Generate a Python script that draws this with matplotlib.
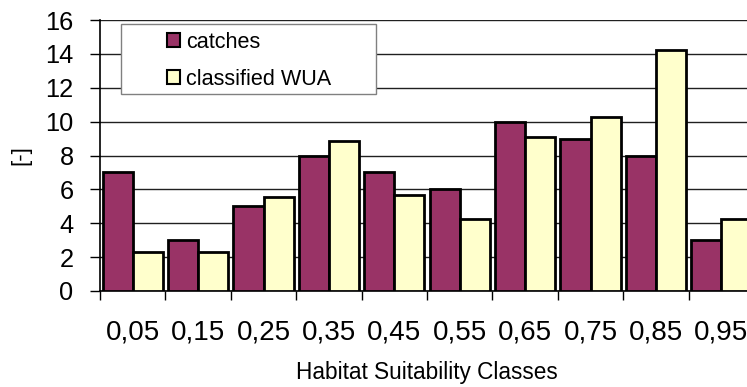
import numpy as np
import matplotlib
matplotlib.use('Agg')
import matplotlib.pyplot as plt
from matplotlib.patches import Rectangle, Patch

# Habitat suitability classes and the two series per class
classes = ['0,05', '0,15', '0,25', '0,35', '0,45', '0,55', '0,65', '0,75', '0,85', '0,95']
catches = [7, 3, 5, 8, 7, 6, 10, 9, 8, 3]
classified_wua = [2.28, 2.32, 5.53, 8.87, 5.65, 4.23, 9.09, 10.25, 14.23, 4.23]

plt.rcParams['font.family'] = ['Liberation Sans', 'DejaVu Sans']

fig = plt.figure(figsize=(7.47, 3.87), dpi=100)
# plot area runs past the right edge of the figure
ax = fig.add_axes([100 / 747, 96 / 387, 654 / 747, 271 / 387])

x = np.arange(len(classes)) + 0.5
w = 0.46
ax.bar(x - w / 2, catches, width=w, color='#993366', edgecolor='black', linewidth=2.0, zorder=3)
ax.bar(x + w / 2, classified_wua, width=w, color='#ffffcc', edgecolor='black', linewidth=2.0, zorder=3)

ax.set_xlim(0, len(classes))
ax.set_ylim(0, 16)
ax.set_yticks(np.arange(0, 17, 2))
ax.yaxis.grid(True, color='#202020', linewidth=1.0, zorder=0)
ax.set_axisbelow(True)

# class labels in the middle, tick marks on the class boundaries
ax.set_xticks(x)
ax.set_xticklabels(classes, fontsize=20)
ax.tick_params(axis='x', which='major', length=0, pad=20.5)
ax.set_xticks(np.arange(0, len(classes) + 1), minor=True)
ax.tick_params(axis='x', which='minor', length=6.5, width=1, direction='out')
ax.tick_params(axis='y', labelsize=18.3, length=7, width=1, direction='out', pad=12)

for side in ['top', 'right']:
    ax.spines[side].set_visible(False)
ax.spines['left'].set_linewidth(1.2)
ax.spines['bottom'].set_linewidth(1.2)

ax.set_ylabel('[-]', fontsize=16, labelpad=10)
ax.set_xlabel('Habitat Suitability Classes', fontsize=16.3, labelpad=11.5)

# legend box with a grey border
fig.patches.append(Rectangle((121 / 747, 1 - 94 / 387), 255 / 747, 70 / 387,
                             transform=fig.transFigure, facecolor='white',
                             edgecolor='#808080', linewidth=1.0, zorder=4))
handles = [Patch(facecolor='#993366', edgecolor='black', linewidth=1.5),
           Patch(facecolor='#ffffcc', edgecolor='black', linewidth=1.5)]
fig.legend(handles, ['catches', 'classified WUA'], loc='upper left',
           bbox_to_anchor=(167 / 747, 1 - 32 / 387), bbox_transform=fig.transFigure,
           frameon=False, fontsize=15.6, handlelength=0.6, handleheight=0.6,
           handletextpad=0.3, labelspacing=0.72, borderpad=0, borderaxespad=0)

fig.savefig('out.png', dpi=100)
